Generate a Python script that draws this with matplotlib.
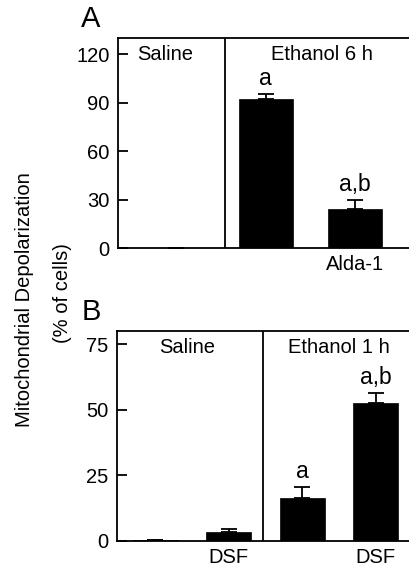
import matplotlib
matplotlib.use("Agg")
import matplotlib.pyplot as plt

plt.rcParams["font.family"] = ["Liberation Sans", "DejaVu Sans"]

# Panel A: saline, ethanol 6 h, ethanol 6 h + Alda-1
a_pos = [1, 2, 3]
a_vals = [0.3, 92.0, 24.0]
a_err = [0.0, 3.4, 5.5]
a_ticklabels = ["", "", "Alda-1"]
a_sig = {2: "a", 3: "a,b"}

# Panel B: saline, saline + DSF, ethanol 1 h, ethanol 1 h + DSF
b_pos = [1, 2, 3, 4]
b_vals = [0.3, 3.5, 16.4, 52.5]
b_err = [0.0, 1.2, 4.2, 3.9]
b_ticklabels = ["", "DSF", "", "DSF"]
b_sig = {3: "a", 4: "a,b"}

W, H = 409, 569
fig = plt.figure(figsize=(W / 100, H / 100), dpi=100)
fig.patch.set_facecolor("white")

LW = 1.3
FS = 14.5


def panel(rect, pos, vals, err, ticklabels, sig, ylim, yticks, xlim, width,
          divider, group_labels, sig_off, letter):
    ax = fig.add_axes(rect)
    ax.bar(pos, vals, width=width, color="black", edgecolor="black", lw=0.5)
    ax.errorbar(pos, vals, yerr=[[0] * len(err), err], fmt="none",
                ecolor="black", elinewidth=LW, capsize=5.5, capthick=LW)
    ax.axvline(divider, color="black", lw=LW)
    ax.set_xlim(*xlim)
    ax.set_ylim(*ylim)
    ax.set_yticks(yticks)
    ax.set_xticks(pos)
    ax.set_xticklabels(ticklabels)
    ax.tick_params(axis="y", direction="in", length=7, width=LW,
                   labelsize=FS, pad=6)
    ax.tick_params(axis="x", length=0, labelsize=FS, pad=5)
    ax.spines["right"].set_visible(False)
    for s in ("left", "top", "bottom"):
        ax.spines[s].set_linewidth(LW)
    for (x, y, t) in group_labels:
        ax.text(x, y, t, ha="center", va="center", fontsize=FS)
    for i, t in sig.items():
        j = pos.index(i)
        ax.text(i, vals[j] + err[j] + sig_off, t, ha="center",
                va="baseline", fontsize=16.5)
    fig.text(91 / W, rect[1] + rect[3] + 5 / H, letter,
             ha="center", va="bottom", fontsize=21)
    return ax


panel([118 / W, 1 - 248 / H, 1 - 118 / W, 210 / H],
      a_pos, a_vals, a_err, a_ticklabels, a_sig,
      (0, 130), [0, 30, 60, 90, 120], (0.35, 3.6), 0.6, 1.54,
      [(0.88, 120, "Saline"), (2.63, 120, "Ethanol 6 h")], 5.5, "A")

panel([117 / W, 1 - 541 / H, 1 - 117 / W, 210 / H],
      b_pos, b_vals, b_err, b_ticklabels, b_sig,
      (0, 80), [0, 25, 50, 75], (0.48, 4.45), 0.61, 2.47,
      [(1.44, 73.6, "Saline"), (3.49, 73.6, "Ethanol 1 h")], 3.4, "B")

fig.text(25 / W, 1 - 300 / H, "Mitochondrial Depolarization", rotation=90,
         ha="center", va="center", fontsize=FS)
fig.text(62 / W, 1 - 293 / H, "(% of cells)", rotation=90,
         ha="center", va="center", fontsize=FS)

fig.savefig("out.png", dpi=100, facecolor="white")
